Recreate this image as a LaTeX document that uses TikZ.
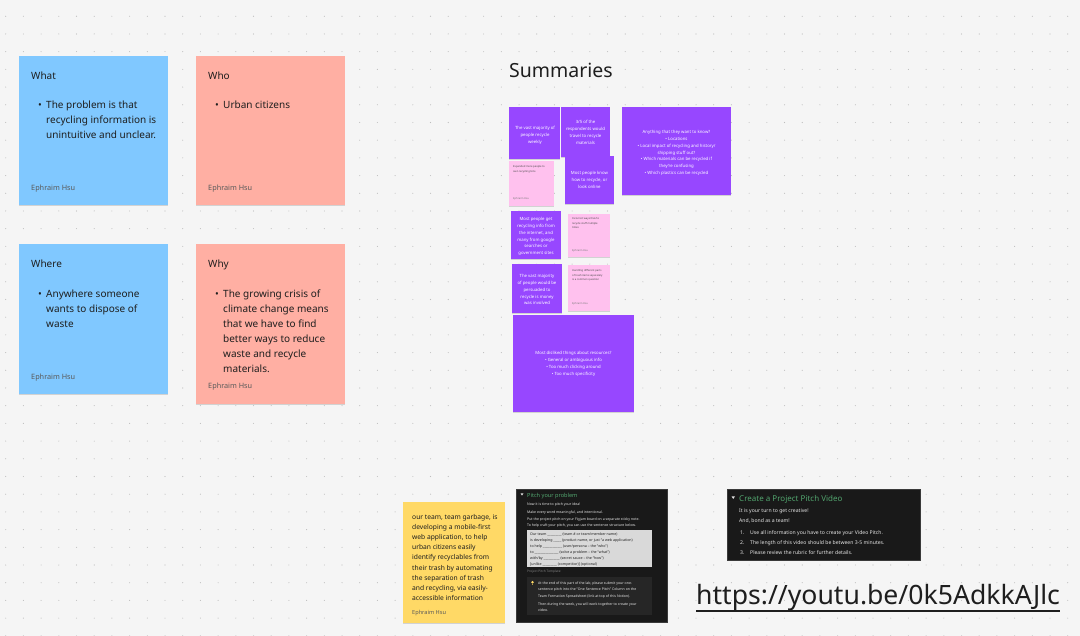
\documentclass[tikz,border=0pt]{standalone}
\usepackage{fontspec}
\setmainfont{Noto Sans}
\usetikzlibrary{shadows,calc}

\definecolor{canvas}{HTML}{F5F5F5}
\definecolor{griddot}{HTML}{BDBDBD}
\definecolor{skyblue}{HTML}{80C8FF}
\definecolor{salmon}{HTML}{FFAFA3}
\definecolor{violet}{HTML}{9747FF}
\definecolor{candy}{HTML}{FFC1EE}
\definecolor{butter}{HTML}{FFD966}
\definecolor{ink}{HTML}{1E1E1E}
\definecolor{byline}{HTML}{5A5A5A}
\definecolor{panel}{HTML}{191919}
\definecolor{panelrim}{HTML}{3A3A3A}
\definecolor{callout}{HTML}{262626}
\definecolor{tmplbox}{HTML}{D9D9D9}
\definecolor{notiongreen}{HTML}{52A56E}
\definecolor{paletext}{HTML}{E6E6E6}

% multi-line nodes are anchored at the baseline of their last line
\tikzset{
  sticky/.style={anchor=north west, inner sep=0pt, outer sep=0pt,
    drop shadow={shadow xshift=0pt, shadow yshift=-1.2pt, opacity=.14, fill=black}},
  heading/.style={anchor=base west, inner sep=0pt, text=ink, font=\fontsize{10}{15}\selectfont},
  bodytext/.style={anchor=base west, inner sep=0pt, text=ink, align=left, font=\fontsize{10}{15}\selectfont},
  dot/.style={anchor=base west, inner sep=0pt, text=ink, font=\fontsize{10}{15}\selectfont},
  author/.style={anchor=base west, inner sep=0pt, text=byline, font=\fontsize{7.3}{9}\selectfont},
  violettext/.style={anchor=base, inner sep=0pt, text=white, align=center, font=\fontsize{4.3}{6.7}\selectfont},
  pinktext/.style={anchor=base west, inner sep=0pt, text=ink!80, align=left, font=\fontsize{2.6}{4.5}\selectfont},
  pinkauthor/.style={anchor=base west, inner sep=0pt, text=byline!80, font=\fontsize{2.6}{4}\selectfont},
  yellowtext/.style={anchor=base west, inner sep=0pt, text=ink, align=left, font=\fontsize{6.7}{10.2}\selectfont},
  paneltext/.style={anchor=base west, inner sep=0pt, text=paletext, align=left, font=\fontsize{3.5}{6.3}\selectfont},
  panelhead/.style={anchor=base west, inner sep=0pt, text=notiongreen, font=\bfseries\fontsize{5.6}{7}\selectfont},
  videotext/.style={anchor=base west, inner sep=0pt, text=paletext, align=left, font=\fontsize{5.1}{10.4}\selectfont},
  videohead/.style={anchor=base west, inner sep=0pt, text=notiongreen, font=\bfseries\fontsize{8}{9}\selectfont},
}

\begin{document}
\begin{tikzpicture}[x=1pt,y=-1pt]
  % canvas and dot grid
  \fill[canvas] (0,0) rectangle (1080,636);
  \useasboundingbox (0,0) rectangle (1080,636);
  \foreach \i in {0,...,60}
    \foreach \j in {0,...,35}
      \fill[griddot] (5.7+17.7*\i, 16.3+17.7*\j) circle (0.55);

  % ---------- four question notes ----------
  \node[sticky, fill=skyblue, minimum width=149, minimum height=149] (what) at (19,56) {};
  \node[heading] (whatT) at (31,80) {What};
  \node[dot] (whatB) at (38,109) {•};
  \node[bodytext] (whatX) at (46,139) {The problem is that\\recycling information is\\unintuitive and unclear.};
  \node[author] (whatA) at (31,191) {Ephraim Hsu};

  \node[sticky, fill=salmon, minimum width=149, minimum height=149] (who) at (196,56) {};
  \node[heading] (whoT) at (208,80) {Who};
  \node[dot] (whoB) at (215,109) {•};
  \node[bodytext] (whoX) at (223,109) {Urban citizens};
  \node[author] (whoA) at (208,191) {Ephraim Hsu};

  \node[sticky, fill=skyblue, minimum width=149, minimum height=150] (where) at (19,244) {};
  \node[heading] (whereT) at (31,268) {Where};
  \node[dot] (whereB) at (38,298) {•};
  \node[bodytext] (whereX) at (46,328) {Anywhere someone\\wants to dispose of\\waste};
  \node[author] (whereA) at (31,380) {Ephraim Hsu};

  \node[sticky, fill=salmon, minimum width=149, minimum height=160] (why) at (196,244) {};
  \node[heading] (whyT) at (208,268) {Why};
  \node[dot] (whyB) at (215,298) {•};
  \node[bodytext] (whyX) at (223,373) {The growing crisis of\\climate change means\\that we have to find\\better ways to reduce\\waste and recycle\\materials.};
  \node[author] (whyA) at (208,389) {Ephraim Hsu};

  % ---------- summaries cluster ----------
  \node[anchor=base west, inner sep=0pt, text=ink, font=\fontsize{19.5}{21}\selectfont] (sumT) at (509,78) {Summaries};

  \node[sticky, fill=violet, minimum width=51, minimum height=52] (v1) at (509,107) {};
  \node[violettext] (v1t) at (535,143.4) {The vast majority of\\people recycle\\weekly};

  \node[sticky, fill=violet, minimum width=49, minimum height=50] (v2) at (561,107) {};
  \node[violettext] (v2t) at (585.5,144.1) {3/5 of the\\respondents would\\travel to recycle\\materials};

  \node[sticky, fill=candy, minimum width=45, minimum height=45] (k1) at (509,161) {};
  \node[pinktext] (k1t) at (513,172.5) {Expanded more people to\\own recycling bins};
  \node[pinkauthor] (k1a) at (513,200) {Ephraim Hsu};

  \node[sticky, fill=violet, minimum width=49, minimum height=48] (v3) at (565,156) {};
  \node[violettext] (v3t) at (589.5,188.4) {Most people know\\how to recycle, or\\look online};

  \node[sticky, fill=violet, minimum width=109, minimum height=88] (v4) at (622,107) {};
  \node[violettext] (v4t) at (676.5,174.2) {Anything that they want to know?\\• Locations\\• Local impact of recycling and history/\\shipping stuff out?\\• Which materials can be recycled if\\they're confusing\\• Which plastics can be recycled};

  \node[sticky, fill=violet, minimum width=50, minimum height=48] (v5) at (511,211) {};
  \node[violettext] (v5t) at (536,254.5) {Most people get\\recycling info from\\the internet, and\\many from google\\searches or\\government sites};

  \node[sticky, fill=candy, minimum width=42, minimum height=43] (k2) at (568,214) {};
  \node[pinktext] (k2t) at (572,229) {Incorrect ways that/to\\recycle stuff multiple\\times};
  \node[pinkauthor] (k2a) at (572,252) {Ephraim Hsu};

  \node[sticky, fill=violet, minimum width=50, minimum height=49] (v6) at (512,264) {};
  \node[violettext] (v6t) at (537,304.8) {The vast majority\\of people would be\\persuaded to\\recycle is money\\was involved};

  \node[sticky, fill=candy, minimum width=42, minimum height=46] (k3) at (568,265) {};
  \node[pinktext] (k3t) at (572,281) {Handling different parts\\of trash items separately\\is a common question};
  \node[pinkauthor] (k3a) at (572,305) {Ephraim Hsu};

  \node[sticky, fill=violet, minimum width=121, minimum height=97] (v7) at (513,315) {};
  \node[violettext] (v7t) at (573.5,375.1) {Most disliked things about resources?\\• General or ambiguous info\\• Too much clicking around\\• Too much specificity};

  % ---------- one-sentence pitch ----------
  \node[sticky, fill=butter, minimum width=102, minimum height=121] (pitch) at (403,502) {};
  \node[yellowtext] (pitchT) at (412,600.6) {our team, team garbage, is\\developing a mobile-first\\web application, to help\\urban citizens easily\\identify recyclables from\\their trash by automating\\the separation of trash\\and recycling, via easily-\\accessible information};
  \node[author, font=\fontsize{5.6}{7}\selectfont] (pitchA) at (412,614) {Ephraim Hsu};

  % ---------- "Pitch your problem" panel ----------
  \node[anchor=north west, inner sep=0pt, fill=panel, draw=panelrim, line width=0.6pt,
        minimum width=151, minimum height=133] (pp) at (516,489) {};
  \fill[paletext] (520.5,493.3) -- (523.5,493.3) -- (522,495.6) -- cycle;
  \node[panelhead] (ppT) at (527,497) {Pitch your problem};
  \node[paneltext] (ppX) at (527,526.8) {Now it is time to pitch your idea!\\[1.2pt]Make every word meaningful, and intentional.\\[1.2pt]Put the project pitch on your Figjam board on a separate sticky note.\\To help craft your pitch, you can use the sentence structure below.};
  \node[anchor=north west, inner sep=0pt, fill=tmplbox, minimum width=125, minimum height=37] (tmpl) at (527,530) {};
  \node[paneltext, text=ink, font=\fontsize{3.6}{5.9}\selectfont] (tmplT) at (530,565) {Our team \_\_\_\_\_\_\_\_\_ (team \# or team/member name)\\is developing \_\_\_\_\_ (product name, or just ``a web application)\\to help \_\_\_\_\_\_\_\_\_\_\_\_ (user/persona -- the ``who'')\\to \_\_\_\_\_\_\_\_\_\_\_\_\_\_\_ (solve a problem -- the ``what'')\\with/by \_\_\_\_\_\_\_\_\_\_ (secret sauce -- the ``how'')\\{[unlike \_\_\_\_\_\_\_\_\_ (competitor)]} (optional)};
  \node[paneltext, text=gray, font=\fontsize{3.2}{4}\selectfont] (tmplC) at (527,572.5) {Project Pitch Template};
  \node[anchor=north west, inner sep=0pt, fill=callout, minimum width=125, minimum height=38] (call) at (527,577) {};
  \fill[butter] (532.5,582.3) circle (1.4);
  \fill[butter!70!black] (531.8,583.6) rectangle (533.2,585.2);
  \node[paneltext] (callT) at (538,611.3) {At the end of this part of the lab, please submit your one-\\sentence pitch into the ``One Sentence Pitch'' Column on the\\Team Formation Spreadsheet (link at top of this Notion).\\[1.6pt]Then during the week, you will work together to create your\\video.};

  % ---------- "Create a Project Pitch Video" panel ----------
  \node[anchor=north west, inner sep=0pt, fill=panel, draw=panelrim, line width=0.6pt,
        minimum width=193, minimum height=71] (vp) at (727,489) {};
  \fill[paletext] (731.5,496.3) -- (735,496.3) -- (733.25,499) -- cycle;
  \node[videohead] (vpT) at (739,501) {Create a Project Pitch Video};
  \node[videotext] (vpX) at (739,522.4) {It is your turn to get creative!\\And, bond as a team!};
  \node[videotext] (vpN) at (740,554.8) {1.\\2.\\3.};
  \node[videotext] (vpL) at (750,554.8) {Use all information you have to create your Video Pitch.\\The length of this video should be between 3-5 minutes.\\Please review the rubric for further details.};

  % ---------- video link ----------
  \node[anchor=base west, inner sep=0pt, text=ink, font=\fontsize{26.6}{28}\selectfont] (url) at (696,604) {https://youtu.be/0k5AdkkAJlc};
  \draw[ink, line width=1.3pt] ($(url.base west)+(0,7)$) coordinate (ulA) -- ($(url.base east)+(0,7)$) coordinate (ulB);
\end{tikzpicture}
\end{document}
